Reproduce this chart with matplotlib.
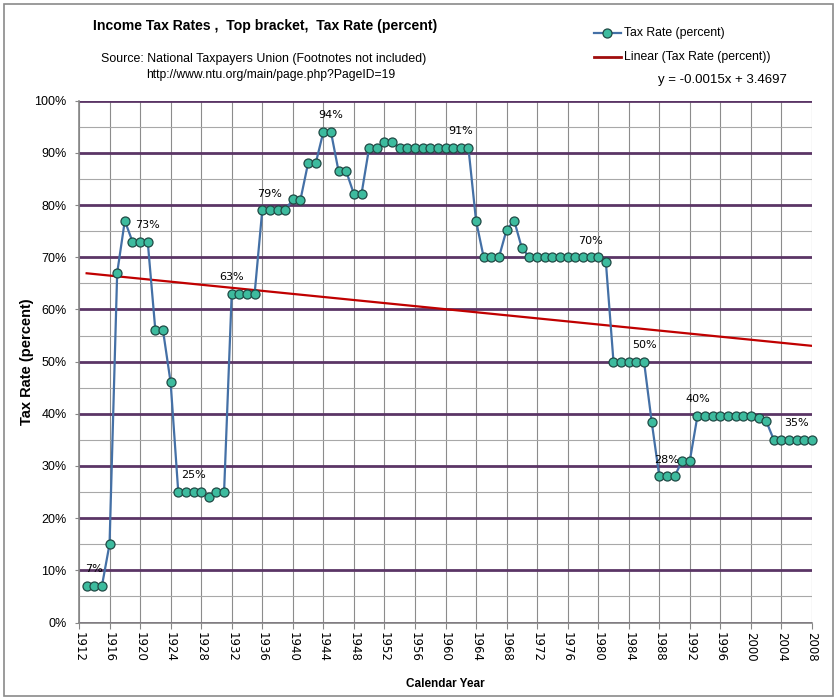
import numpy as np
import matplotlib.pyplot as plt
from matplotlib.lines import Line2D
from matplotlib.patches import Rectangle
from matplotlib.ticker import MultipleLocator, PercentFormatter

sans = ['Liberation Sans', 'DejaVu Sans']

# Top bracket rate, percent, 1913-2008
years = list(range(1913, 2009))
rates = [7, 7, 7, 15, 67, 77, 73, 73, 73, 56, 56, 46, 25, 25, 25, 25, 24, 25, 25,
         63, 63, 63, 63, 79, 79, 79, 79, 81.1, 81, 88, 88, 94, 94, 86.45, 86.45,
         82.13, 82.13, 91, 91, 92, 92, 91, 91, 91, 91, 91, 91, 91, 91, 91, 91,
         77, 70, 70, 70, 75.25, 77, 71.75, 70, 70, 70, 70, 70, 70, 70, 70, 70, 70,
         69.13, 50, 50, 50, 50, 50, 38.5, 28, 28, 28, 31, 31,
         39.6, 39.6, 39.6, 39.6, 39.6, 39.6, 39.6, 39.6, 39.1, 38.6,
         35, 35, 35, 35, 35, 35]
label_years = [1914, 1921, 1927, 1932, 1937, 1945, 1962, 1979, 1986, 1989, 1993, 2006]

x = np.array(years)
y = np.array(rates) / 100.0

line_col = '#4470a6'
face_col = '#3dbb9e'
edge_col = '#1f4a45'
trend_col = '#c00000'

fig = plt.figure(figsize=(8.36, 6.99), dpi=100)
fig.patches.append(Rectangle((4 / 836, 3 / 699), 829 / 836, 692 / 699, transform=fig.transFigure,
                             fill=False, edgecolor='#8a8a8a', lw=1.2))

ax = fig.add_axes([79 / 836, 1 - 622.5 / 699, 733 / 836, 521.8 / 699])
ax.set_xlim(1912, 2008)
ax.set_ylim(0, 1)

# grid
ax.xaxis.set_major_locator(MultipleLocator(4))
ax.yaxis.set_major_locator(MultipleLocator(0.1))
ax.yaxis.set_minor_locator(MultipleLocator(0.05))
ax.yaxis.set_major_formatter(PercentFormatter(1.0, decimals=0))
ax.grid(axis='x', which='major', color='#8c8c8c', lw=0.8)
ax.grid(axis='y', which='minor', color='#a8a8a8', lw=0.8)
ax.grid(axis='y', which='major', color='#5b3566', lw=2.0)
ax.set_axisbelow(True)
for s in ['top', 'right']:
    ax.spines[s].set_visible(False)
for s in ['left', 'bottom']:
    ax.spines[s].set_color('#868686')
    ax.spines[s].set_linewidth(1.2)
ax.tick_params(axis='x', which='major', length=4, color='#868686', labelrotation=270, pad=3,
               labelsize=8.5)
ax.tick_params(axis='y', which='major', length=3, color='#868686', labelsize=9, pad=6)
ax.tick_params(axis='y', which='minor', length=0)
for lab in ax.get_yticklabels():
    lab.set_family(sans)

# series
ax.plot(x, y, color=line_col, lw=1.6, marker='o', markersize=6.5,
        markerfacecolor=face_col, markeredgecolor=edge_col, markeredgewidth=0.9,
        clip_on=False, zorder=4)

# linear trend
k, b = np.polyfit(x, y, 1)
ax.plot(x, k * x + b, color=trend_col, lw=1.6, zorder=3)

for yr in label_years:
    v = rates[years.index(yr)]
    ax.annotate(f"{v:.0f}%", (yr, v / 100), xytext=(0, 12), textcoords='offset points',
                ha='center', va='center', fontsize=8, zorder=5)

ax.set_ylabel('Tax Rate (percent)', fontsize=10.5, fontweight='bold', family=sans)
ax.yaxis.set_label_coords(-0.062, 0.5)
ax.set_xlabel('Calendar Year', fontsize=8.5, fontweight='bold', family=sans)
ax.xaxis.set_label_coords(0.5, -0.106)

fig.text(265 / 836, 1 - 26 / 699, 'Income Tax Rates ,  Top bracket,  Tax Rate (percent)',
         ha='center', va='center', fontsize=10.1, fontweight='bold', family=sans)
fig.text(264 / 836, 1 - 59 / 699, 'Source: National Taxpayers Union (Footnotes not included)',
         ha='center', va='center', fontsize=8.9, family=sans)
fig.text(271 / 836, 1 - 75 / 699, 'http://www.ntu.org/main/page.php?PageID=19',
         ha='center', va='center', fontsize=8.7, family=sans)

# legend, drawn by hand in figure pixels
fig.add_artist(Line2D([594 / 836, 621 / 836], [1 - 33 / 699, 1 - 33 / 699], transform=fig.transFigure,
                      color=line_col, lw=1.6))
fig.add_artist(Line2D([607 / 836], [1 - 33 / 699], transform=fig.transFigure, marker='o',
                      markersize=6.5, markerfacecolor=face_col, markeredgecolor=edge_col,
                      markeredgewidth=0.9))
fig.add_artist(Line2D([594 / 836, 621 / 836], [1 - 57 / 699, 1 - 57 / 699], transform=fig.transFigure,
                      color='#a00d0d', lw=2))
fig.text(624 / 836, 1 - 33 / 699, 'Tax Rate (percent)', ha='left', va='center',
         fontsize=8.8, family=sans)
fig.text(624 / 836, 1 - 57 / 699, 'Linear (Tax Rate (percent))', ha='left', va='center',
         fontsize=8.8, family=sans)
fig.text(722 / 836, 1 - 80 / 699, 'y = -0.0015x + 3.4697', ha='center', va='center',
         fontsize=9.5, family=sans)

fig.savefig('out.png', dpi=100)
